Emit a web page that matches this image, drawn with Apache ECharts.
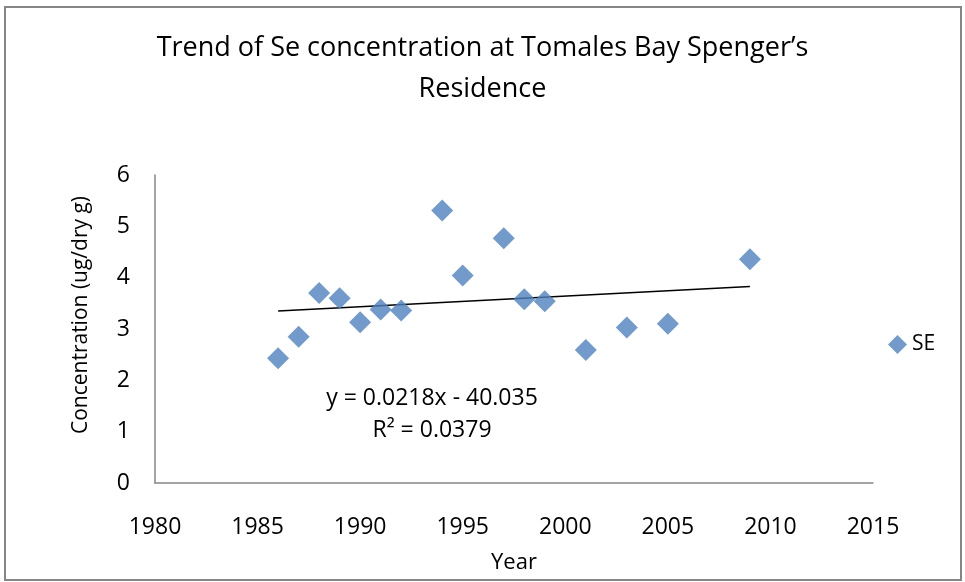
<!DOCTYPE html>
<html>
<head>
<meta charset="utf-8">
<script src="https://cdn.jsdelivr.net/npm/echarts@6/dist/echarts.min.js"></script>
<style>
  html, body { margin: 0; padding: 0; background: #fff; }
  #chart { width: 965px; height: 582px; }
</style>
</head>
<body>
<div id="chart"></div>
<script>
  // Se concentration by year
  var years = [1986, 1987, 1988, 1989, 1990, 1991, 1992, 1994, 1995, 1997, 1998, 1999, 2001, 2003, 2005, 2009]
  var seValues = [2.43, 2.85, 3.70, 3.60, 3.13, 3.38, 3.36, 5.31, 4.04, 4.77, 3.58, 3.54, 2.59, 3.03, 3.10, 4.36]

  // linear trendline end points as drawn
  var trendYears = [1986, 2009]
  var trendValues = [3.35, 3.83]

  var eqText = 'y = 0.0218x - 40.035'
  var r2Text = 'R² = 0.0379'

  var font = '"Open Sans", "Noto Sans", sans-serif'

  var chart = echarts.init(document.getElementById('chart'))

  chart.setOption({
    animation: false,
    backgroundColor: '#fff',
    title: {
      text: 'Trend of Se concentration at Tomales Bay Spenger’s\nResidence',
      left: 'center',
      top: 23,
      textStyle: {
        fontFamily: font,
        fontSize: 27,
        fontWeight: 'normal',
        color: '#000',
        lineHeight: 41
      }
    },
    legend: {
      data: [{ name: 'SE', icon: 'diamond' }],
      left: 883,
      top: 329,
      itemWidth: 19,
      itemHeight: 19,
      itemGap: 6,
      textStyle: { fontFamily: font, fontSize: 21, color: '#000' }
    },
    grid: {
      left: 155,
      right: 92,
      top: 175,
      bottom: 99
    },
    xAxis: {
      type: 'value',
      min: 1980,
      max: 2015,
      interval: 5,
      name: 'Year',
      nameLocation: 'middle',
      nameGap: 69,
      nameTextStyle: { fontFamily: font, fontSize: 22, color: '#000' },
      axisLine: { show: true, onZero: false, lineStyle: { color: '#868686', width: 1.5 } },
      axisTick: { show: false },
      splitLine: { show: false },
      axisLabel: {
        fontFamily: font, fontSize: 23, color: '#000', margin: 33,
        formatter: function (v) { return String(v) }
      }
    },
    yAxis: {
      type: 'value',
      min: 0,
      max: 6,
      interval: 1,
      name: 'Concentration (ug/dry g)',
      nameLocation: 'middle',
      nameRotate: 90,
      nameGap: 63,
      nameTextStyle: { fontFamily: font, fontSize: 21, color: '#000', padding: [0, 0, 0, 28] },
      axisLine: { show: true, lineStyle: { color: '#868686', width: 1.5 } },
      axisTick: { show: false },
      splitLine: { show: false },
      axisLabel: { fontFamily: font, fontSize: 23, color: '#000', margin: 25 }
    },
    graphic: [
      {
        type: 'rect',
        shape: { x: 5, y: 7, width: 956, height: 573 },
        style: { fill: 'none', stroke: '#868686', lineWidth: 2 },
        silent: true
      },
      {
        type: 'text',
        x: 432,
        y: 398,
        style: {
          text: eqText,
          fontFamily: font, fontSize: 23, fill: '#000',
          textAlign: 'center', textVerticalAlign: 'middle'
        }
      },
      {
        type: 'text',
        x: 432,
        y: 430,
        style: {
          text: r2Text,
          fontFamily: font, fontSize: 23, fill: '#000',
          textAlign: 'center', textVerticalAlign: 'middle'
        }
      }
    ],
    series: [
      {
        name: 'SE',
        type: 'scatter',
        symbol: 'diamond',
        symbolSize: 22,
        itemStyle: { color: '#4F81BD' },
        data: years.map(function (y, i) { return [y, seValues[i]] }),
        z: 3
      },
      {
        name: 'trend',
        type: 'line',
        showSymbol: false,
        symbol: 'none',
        lineStyle: { color: '#000', width: 1.5 },
        data: trendYears.map(function (y, i) { return [y, trendValues[i]] }),
        z: 2
      }
    ]
  })
</script>
</body>
</html>
